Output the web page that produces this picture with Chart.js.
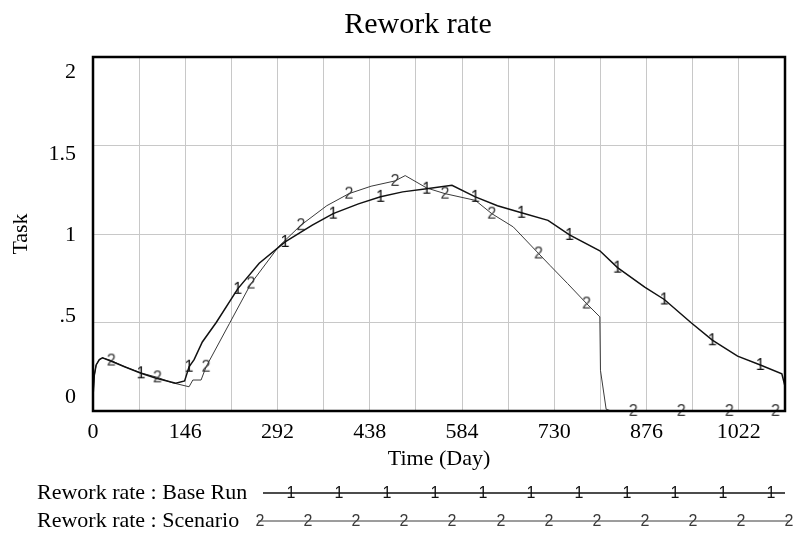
<!DOCTYPE html>
<html><head><meta charset="utf-8">
<script src="https://cdn.jsdelivr.net/npm/chart.js@4"></script>
<style>html,body{margin:0;padding:0;background:#fff;}canvas{display:block}</style>
</head><body>
<canvas id="c" width="793" height="534"></canvas>
<script>
// ---- data ----
const days1 = [0, 2, 5, 10, 15, 30, 50, 76, 100, 131, 145, 152, 160, 173, 195, 229, 263, 304, 347, 380, 420, 455, 490, 528, 568, 605, 640, 678, 720, 754, 802, 830, 873, 904, 946, 980, 1020, 1056, 1090, 1095];
const baseRun = [0.08, 0.2, 0.26, 0.29, 0.30, 0.28, 0.25, 0.213, 0.185, 0.157, 0.17, 0.25, 0.29, 0.39, 0.50, 0.69, 0.835, 0.955, 1.05, 1.115, 1.17, 1.21, 1.238, 1.256, 1.275, 1.21, 1.16, 1.12, 1.077, 0.995, 0.905, 0.81, 0.70, 0.63, 0.50, 0.40, 0.31, 0.26, 0.21, 0.14];
const days2 = [0, 2, 5, 10, 15, 29, 50, 76, 102, 125, 152, 158, 171, 179, 216, 250, 294, 329, 370, 405, 440, 478, 494, 528, 557, 605, 631, 665, 705, 723, 751, 781, 802, 803, 812, 820, 855, 931, 1007, 1080, 1095];
const scenario = [0.08, 0.2, 0.26, 0.29, 0.30, 0.285, 0.25, 0.215, 0.19, 0.16, 0.137, 0.175, 0.175, 0.25, 0.495, 0.72, 0.93, 1.05, 1.16, 1.228, 1.27, 1.30, 1.33, 1.26, 1.228, 1.19, 1.115, 1.04, 0.89, 0.823, 0.72, 0.607, 0.532, 0.23, 0.01, 0, 0, 0, 0, 0, 0];
const markers1 = [76, 152, 229, 304, 380, 455, 528, 605, 678, 754, 830, 904, 980, 1056];
const markers2 = [29, 102, 179, 250, 329, 405, 478, 557, 631, 705, 781, 855, 931, 1007, 1080];
const xTickLabels = ['0', '146', '292', '438', '584', '730', '876', '1022'];
const yTickLabels = ['2', '1.5', '1', '.5', '0'];
const seriesNames = ['Rework rate : Base Run', 'Rework rate : Scenario'];
const chartTitle = 'Rework rate';

const SERIF = '"Liberation Serif", "Times New Roman", serif';

function makeMarker(ch, color) {
  const c = document.createElement('canvas');
  c.width = 14; c.height = 18;
  const g = c.getContext('2d');
  g.font = '16px "Liberation Sans", Arial, sans-serif';
  g.fillStyle = color;
  g.textAlign = 'center';
  g.textBaseline = 'middle';
  g.fillText(ch, 7, 9.5);
  return c;
}
const mark1 = makeMarker('1', '#111');
const mark2 = makeMarker('2', '#3a3a3a');

const frameAndLabels = {
  id: 'frameAndLabels',
  afterDatasetsDraw(chart) {
    const {ctx, chartArea: a} = chart;
    ctx.save();
    ctx.strokeStyle = '#000';
    ctx.lineWidth = 2.5;
    ctx.strokeRect(a.left, a.top, a.right - a.left, a.bottom - a.top);
    ctx.restore();
  },
  afterDraw(chart) {
    const {ctx, chartArea: a} = chart;
    ctx.save();
    ctx.fillStyle = '#000';
    // title
    ctx.font = '30px ' + SERIF;
    ctx.textAlign = 'center';
    ctx.textBaseline = 'alphabetic';
    ctx.fillText(chartTitle, 418, 33);
    // y tick labels (spread between inset top and bottom, as in the reference)
    ctx.font = '22px ' + SERIF;
    ctx.textAlign = 'right';
    ctx.textBaseline = 'middle';
    const y0 = a.top + 15.5, y1 = a.bottom - 13.5;
    yTickLabels.forEach((t, i) => {
      ctx.fillText(t, 76, y0 + i * (y1 - y0) / (yTickLabels.length - 1));
    });
    // legend
    ctx.textAlign = 'left';
    const rows = [
      {y: 493, x0: 263, x1: 785, m: mark1, mStart: 291, mStep: 48, color: '#111', w: 1.5},
      {y: 521, x0: 258, x1: 790, m: mark2, mStart: 260, mStep: 48.1, color: '#3a3a3a', w: 1}
    ];
    rows.forEach((r, i) => {
      ctx.fillStyle = '#000';
      ctx.fillText(seriesNames[i], 37, r.y);
      ctx.strokeStyle = r.color;
      ctx.lineWidth = r.w;
      ctx.beginPath(); ctx.moveTo(r.x0, r.y); ctx.lineTo(r.x1, r.y); ctx.stroke();
      for (let x = r.mStart; x <= r.x1 + 1; x += r.mStep) {
        ctx.drawImage(r.m, Math.round(x - r.m.width / 2), Math.round(r.y - r.m.height / 2));
      }
    });
    ctx.restore();
  }
};

const pts = (d, v) => d.map((x, i) => ({x, y: v[i]}));

new Chart(document.getElementById('c'), {
  type: 'line',
  data: {
    datasets: [
      {
        label: seriesNames[0],
        data: pts(days1, baseRun),
        borderColor: '#111', borderWidth: 1.5, tension: 0, clip: false,
        pointRadius: c => markers1.includes(days1[c.dataIndex]) ? 4 : 0,
        pointStyle: c => markers1.includes(days1[c.dataIndex]) ? mark1 : 'circle',
        pointHoverRadius: 0
      },
      {
        label: seriesNames[1],
        data: pts(days2, scenario),
        borderColor: '#3a3a3a', borderWidth: 1, tension: 0, clip: false,
        pointRadius: c => markers2.includes(days2[c.dataIndex]) ? 4 : 0,
        pointStyle: c => markers2.includes(days2[c.dataIndex]) ? mark2 : 'circle',
        pointHoverRadius: 0
      }
    ]
  },
  options: {
    responsive: false, animation: false, events: [],
    layout: {padding: {left: 0, right: 3, top: 57, bottom: 0}},
    plugins: {
      legend: {display: false}, tooltip: {enabled: false}, title: {display: false}
    },
    scales: {
      x: {
        type: 'linear', min: 0, max: 1095,
        grid: {color: '#c8c8c8', lineWidth: 1, drawTicks: false},
        border: {display: false},
        ticks: {stepSize: 73, autoSkip: false, maxRotation: 0, padding: 8, color: '#000',
          font: {family: SERIF, size: 22},
          callback: v => (v % 146 === 0 ? xTickLabels[v / 146] : '')},
        title: {display: true, text: 'Time (Day)', color: '#000',
          font: {family: SERIF, size: 22}, padding: {top: 0, bottom: 62}},
        afterFit: s => { s.height = 123; }
      },
      y: {
        min: 0, max: 2,
        grid: {color: '#c8c8c8', lineWidth: 1, drawTicks: false},
        border: {display: false},
        ticks: {stepSize: 0.5, display: false},
        title: {display: true, text: 'Task', color: '#000',
          font: {family: SERIF, size: 22}, padding: {top: 8, bottom: 0}},
        afterFit: s => { s.width = 93; }
      }
    }
  },
  plugins: [frameAndLabels]
});
</script>
</body></html>
